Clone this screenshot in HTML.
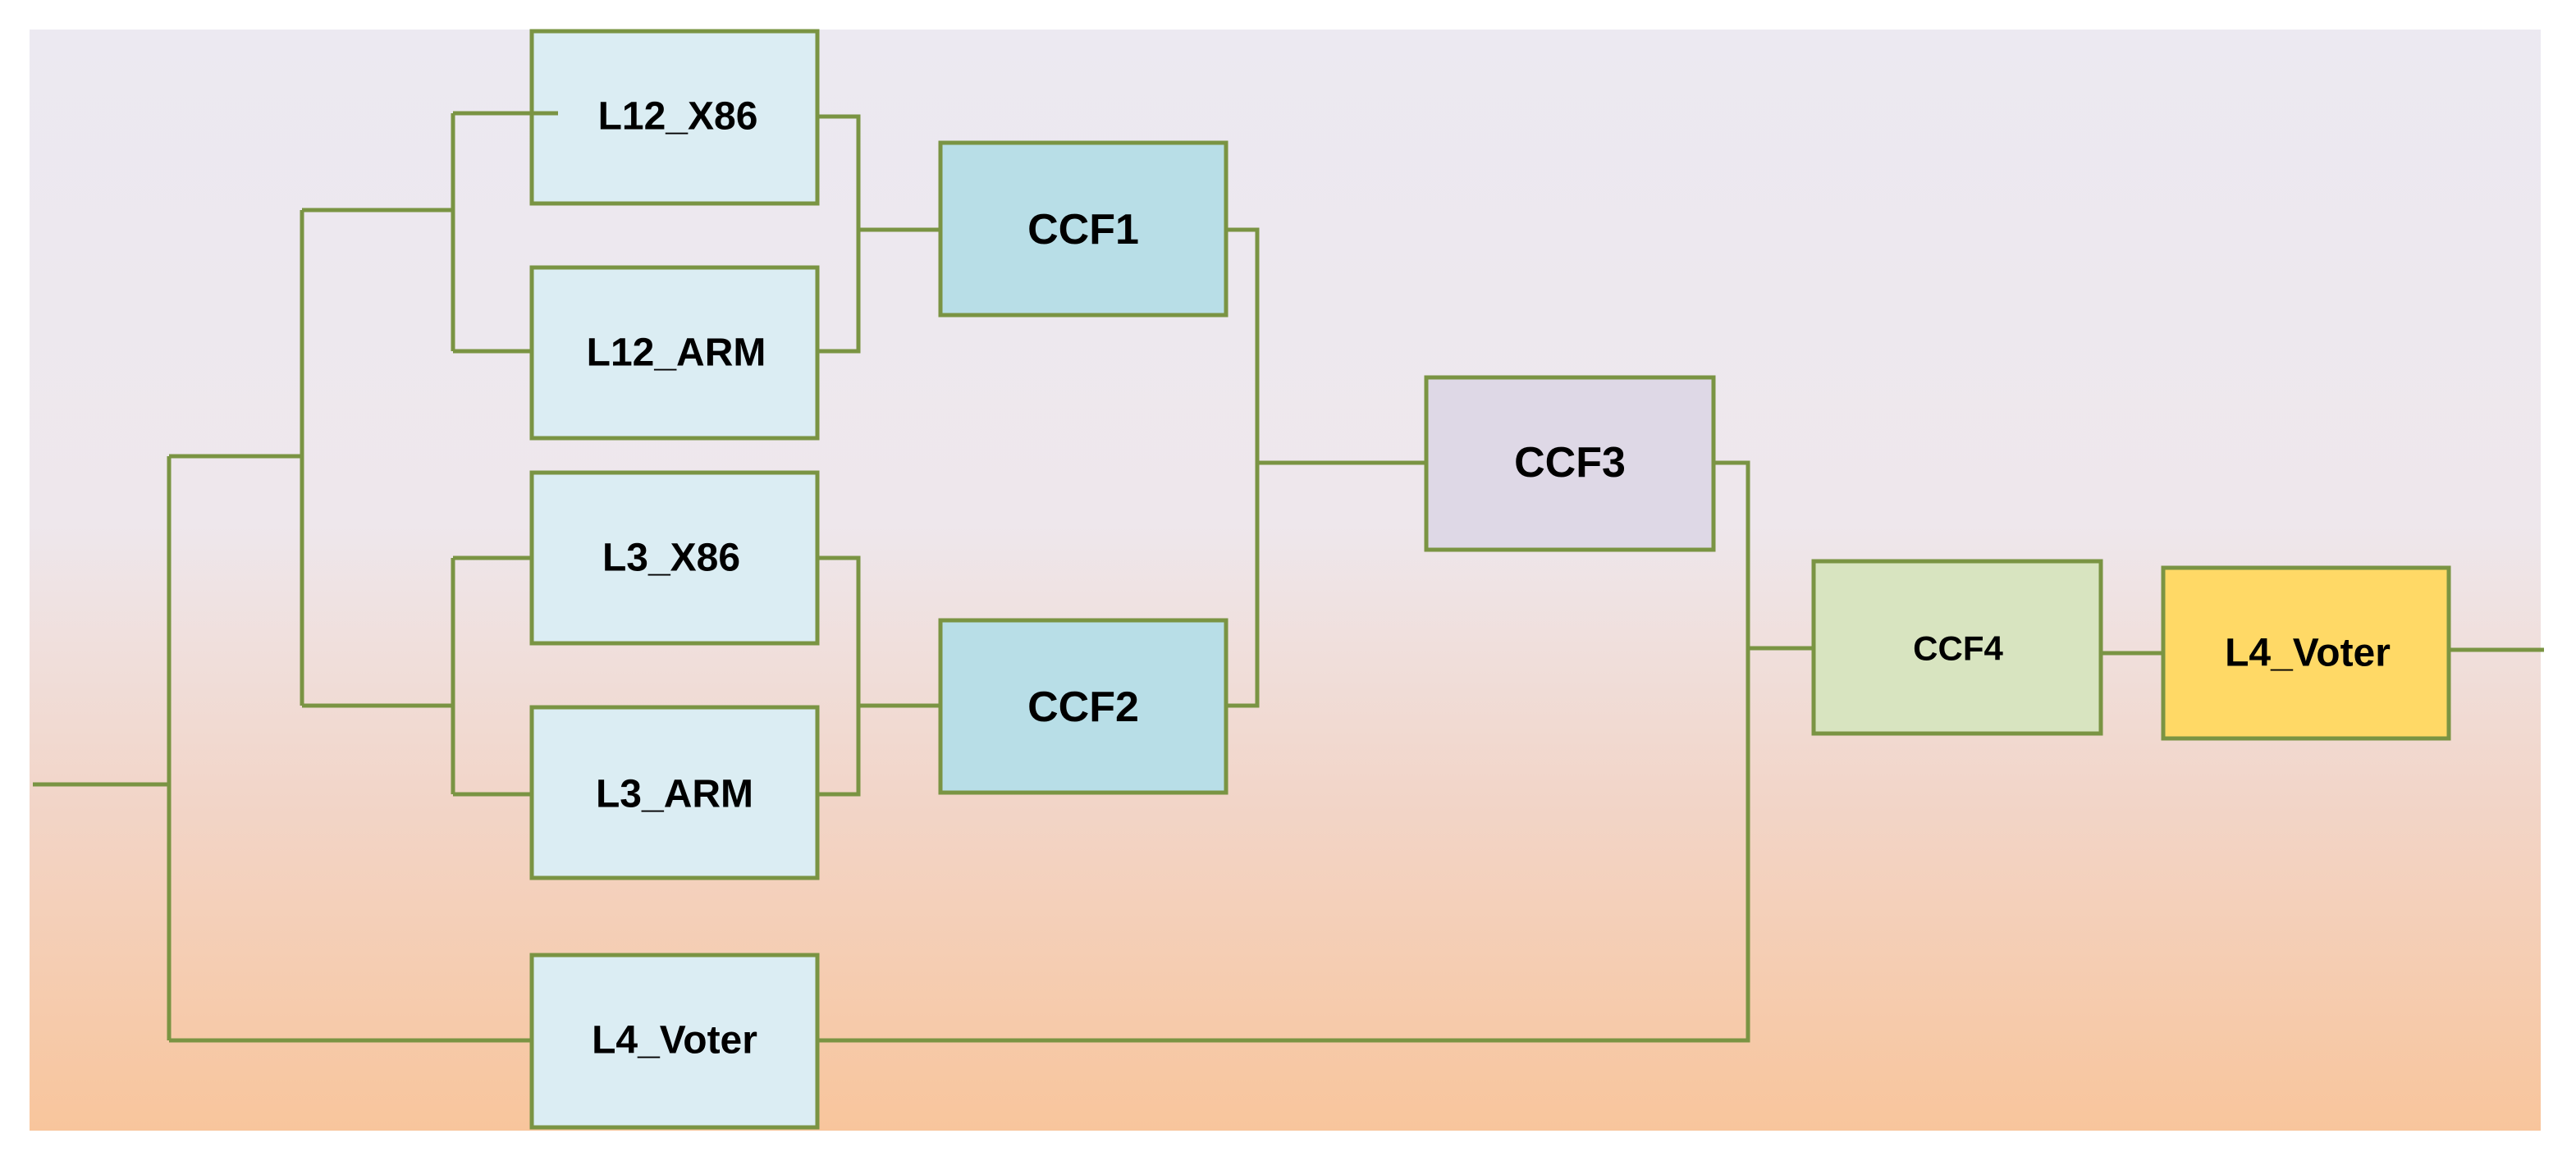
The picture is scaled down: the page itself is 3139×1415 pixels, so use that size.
<!DOCTYPE html>
<html><head><meta charset="utf-8"><style>
html,body{margin:0;padding:0;background:#fff;}
svg{display:block;}
text{font-family:"Liberation Sans","DejaVu Sans",sans-serif;font-weight:bold;fill:#000;text-anchor:middle;dominant-baseline:central;}
</style></head><body>
<svg width="3139" height="1415" viewBox="0 0 3139 1415" xmlns="http://www.w3.org/2000/svg">
<defs>
<linearGradient id="bg" x1="0" y1="0" x2="0" y2="1">
<stop offset="0" stop-color="#ECE9F1"/>
<stop offset="0.45" stop-color="#EEE7EC"/>
<stop offset="0.7" stop-color="#F2D5C8"/>
<stop offset="1" stop-color="#F8C59C"/>
</linearGradient>
</defs>
<rect x="36" y="36" width="3060" height="1342" fill="url(#bg)"/>
<g fill="none" stroke="#7A9443" stroke-width="5" stroke-linejoin="miter">
<path d="M40 956 H206 M206 556 V1268 M206 556 H368 M206 1268 H648"/>
<path d="M368 256 V860 M368 256 H552 M368 860 H552"/>
<path d="M552 138 V428 M552 138 H680 M552 428 H648"/>
<path d="M552 680 V968 M552 680 H648 M552 968 H648"/>
<path d="M996 142 H1046 V428 H996 M1046 280 H1146"/>
<path d="M996 680 H1046 V968 H996 M1046 860 H1146"/>
<path d="M1494 280 H1532 V860 H1494 M1532 564 H1738"/>
<path d="M2088 564 H2130 V1268 H996 M2130 790 H2210"/>
<path d="M2560 796 H2636"/>
<path d="M2984 792 H3100"/>
</g>
<g stroke="#7A9443" stroke-width="5">
<rect x="648" y="38" width="348" height="210" fill="#DBEDF3"/>
<rect x="648" y="326" width="348" height="208" fill="#DBEDF3"/>
<rect x="648" y="576" width="348" height="208" fill="#DBEDF3"/>
<rect x="648" y="862" width="348" height="208" fill="#DBEDF3"/>
<rect x="648" y="1164" width="348" height="210" fill="#DBEDF3"/>
<rect x="1146" y="174" width="348" height="210" fill="#B8DEE7"/>
<rect x="1146" y="756" width="348" height="210" fill="#B8DEE7"/>
<rect x="1738" y="460" width="350" height="210" fill="#DED8E6"/>
<rect x="2210" y="684" width="350" height="210" fill="#D8E4C0"/>
<rect x="2636" y="692" width="348" height="208" fill="#FFD966"/>
</g>
<path d="M552 138 H680" stroke="#7A9443" stroke-width="5"/>
<text x="826" y="142" font-size="48">L12_X86</text>
<text x="824" y="430" font-size="48">L12_ARM</text>
<text x="818" y="680" font-size="48">L3_X86</text>
<text x="822" y="968" font-size="48">L3_ARM</text>
<text x="822" y="1268" font-size="48">L4_Voter</text>
<text x="1320" y="280" font-size="52">CCF1</text>
<text x="1320" y="862" font-size="52">CCF2</text>
<text x="1913" y="564" font-size="52">CCF3</text>
<text x="2386" y="790" font-size="42">CCF4</text>
<text x="2812" y="796" font-size="48">L4_Voter</text>
</svg>
</body></html>
